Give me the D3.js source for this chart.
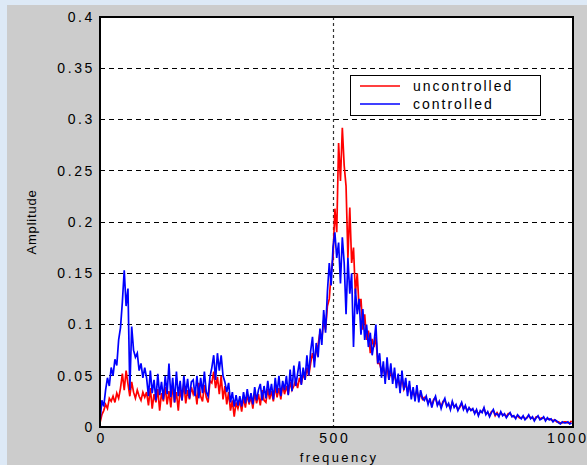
<!DOCTYPE html>
<html><head><meta charset="utf-8">
<script src="https://cdn.jsdelivr.net/npm/d3@7"></script>
<style>
html,body{margin:0;padding:0;background:#dde9f6;}
svg{display:block;}
</style></head>
<body>
<script>
// sampling grid: frequency in Hz for each value (4 Hz resolution)
const freqStep = 4;
const xTicks = [0, 500, 1000];
const yTicks = [0, 0.05, 0.1, 0.15, 0.2, 0.25, 0.3, 0.35, 0.4];
const seriesNames = ["uncontrolled", "controlled"];

const uncontrolled = [
 .004,.012,.016,.022,.018,.028,.025,.030,.024,.033,.028,.038,.052,.036,.055,.042,.030,.044,.034,.028,.036,.030,.026,.034,.029,
 .034,.021,.038,.018,.032,.024,.037,.016,.033,.025,.039,.022,.035,.019,.041,.024,.034,.016,.037,.026,.043,.023,.036,.027,.039,
 .032,.038,.022,.043,.030,.025,.041,.029,.024,.045,.043,.054,.038,.049,.032,.050,.027,.040,.022,.034,.016,.026,.010,.024,.018,
 .026,.015,.029,.019,.032,.022,.030,.018,.034,.023,.032,.021,.036,.026,.024,.037,.027,.035,.025,.040,.029,.038,.027,.041,.032,
 .040,.032,.044,.036,.040,.046,.038,.048,.042,.052,.046,.058,.050,.062,.072,.064,.074,.080,.092,.086,.104,.095,.118,.125,.150,
 .165,.213,.190,.277,.240,.292,.255,.235,.165,.214,.160,.175,.130,.150,.115,.125,.095,.110,.085,.094,.072,.086,.078,.088,.062,
 .062,.055,.058,.048,.060,.046,.055,.049,.050,.043,.046,.038,.048,.037,.042,.035,.040,.031,.034,.029,.036,.028,.032,.027,.029,
 .028,.024,.026,.021,.027,.028,.022,.024,.020,.025,.026,.021,.022,.018,.024,.020,.021,.017,.019,.023,.018,.020,.016,.018,.017,
 .017,.014,.016,.012,.015,.015,.018,.013,.014,.011,.015,.016,.011,.014,.011,.014,.012,.012,.010,.013,.013,.011,.010,.009,.011,
 .009,.009,.010,.008,.009,.011,.009,.009,.007,.010,.010,.008,.009,.009,.007,.008,.008,.007,.006,.007,.005,.005,.004,.004,.005,
 .005,.004,.004,.006
];

const controlled = [
 .005,.026,.020,.036,.048,.040,.058,.050,.066,.060,.085,.097,.122,.153,.118,.135,.036,.098,.075,.068,.072,.055,.062,.048,.058,
 .048,.030,.055,.033,.046,.026,.052,.031,.044,.027,.050,.032,.062,.029,.048,.024,.054,.030,.045,.026,.050,.032,.047,.028,.044,
 .046,.030,.050,.028,.048,.033,.054,.034,.030,.049,.058,.070,.046,.072,.055,.070,.050,.044,.034,.043,.024,.034,.020,.031,.021,
 .030,.020,.034,.023,.037,.024,.033,.022,.039,.026,.036,.042,.026,.040,.028,.045,.031,.042,.027,.048,.033,.050,.030,.045,.036,
 .050,.031,.056,.035,.060,.040,.052,.064,.041,.058,.046,.070,.050,.074,.088,.058,.082,.068,.096,.080,.114,.092,.132,.160,.138,
 .175,.190,.165,.180,.140,.185,.160,.110,.165,.130,.150,.078,.135,.110,.125,.090,.115,.085,.100,.078,.092,.070,.082,.100,.062,
 .072,.048,.064,.042,.068,.046,.062,.042,.058,.038,.052,.033,.055,.036,.048,.030,.045,.027,.039,.025,.041,.024,.036,.028,.026,
 .030,.022,.028,.019,.026,.030,.021,.025,.018,.024,.028,.020,.023,.017,.025,.019,.022,.016,.020,.024,.017,.021,.015,.019,.016,
 .018,.013,.017,.011,.016,.014,.019,.012,.015,.010,.014,.017,.012,.013,.010,.015,.011,.013,.009,.012,.014,.010,.011,.008,.012,
 .010,.008,.011,.007,.009,.012,.008,.010,.006,.009,.011,.007,.008,.010,.006,.009,.007,.008,.005,.007,.006,.004,.003,.005,.004,
 .004,.005,.003,.004
];

const W = 587, H = 465;
const L = 100, R = 573, T = 17, B = 427;
const font = "'Liberation Sans', Arial, sans-serif";

const svg = d3.select("body").append("svg").attr("width", W).attr("height", H);
svg.append("rect").attr("x", 0).attr("y", 0).attr("width", W).attr("height", H).attr("fill", "#dde9f6");
svg.append("rect").attr("x", 7).attr("y", 5).attr("width", W - 7).attr("height", H - 5).attr("fill", "#cccccc");

const x = d3.scaleLinear().domain([0, 1015]).range([L, R]);
const y = d3.scaleLinear().domain([0, 0.4]).range([B, T]);

svg.append("rect").attr("x", L).attr("y", T).attr("width", R - L).attr("height", B - T).attr("fill", "#fff");

// gridlines
const grid = svg.append("g");
grid.selectAll("line.h").data(yTicks.filter(v => v > 0 && v < 0.4)).join("line")
  .attr("x1", L).attr("x2", R).attr("y1", d => y(d)).attr("y2", d => y(d))
  .attr("stroke", "#000").attr("stroke-width", 1).attr("stroke-dasharray", "5,4").attr("shape-rendering", "crispEdges");
grid.selectAll("line.v").data(xTicks.filter(v => v > 0 && v < 1000)).join("line")
  .attr("x1", d => Math.round(x(d)) + 0.5).attr("x2", d => Math.round(x(d)) + 0.5).attr("y1", T).attr("y2", B)
  .attr("stroke", "#333").attr("stroke-width", 1.2).attr("stroke-dasharray", "3,3");

// data lines
const line = d3.line().x((d, i) => x(i * freqStep)).y(d => y(d));
svg.append("path").datum(uncontrolled).attr("d", line).attr("fill", "none").attr("stroke", "#ff0000").attr("stroke-width", 1.7);
svg.append("path").datum(controlled).attr("d", line).attr("fill", "none").attr("stroke", "#0000ff").attr("stroke-width", 1.7);

// axes
const xAxis = d3.axisBottom(x).tickValues(xTicks).tickSize(0).tickPadding(6).tickFormat(d3.format("d"));
const gx = svg.append("g").attr("transform", `translate(0,${B})`).call(xAxis);
const yAxis = d3.axisLeft(y).tickValues(yTicks).tickSize(0).tickPadding(5).tickFormat(d => d === 0 ? "0" : String(d));
const gy = svg.append("g").attr("transform", `translate(${L},0)`).call(yAxis);
[gx, gy].forEach(g => {
  g.select(".domain").remove();
  g.selectAll("text").attr("font-family", font).attr("font-size", 14).attr("fill", "#000").attr("letter-spacing", 2.6);
});
gx.selectAll("text").attr("dx", 1.3);

// box
svg.append("rect").attr("x", L).attr("y", T).attr("width", R - L).attr("height", B - T)
  .attr("fill", "none").attr("stroke", "#000").attr("stroke-width", 2);

// axis labels
svg.append("text").attr("x", 339).attr("y", 462).attr("text-anchor", "middle")
  .attr("font-family", font).attr("font-size", 13).attr("letter-spacing", 2.4).text("frequency");
svg.append("text").attr("transform", `translate(36,${(T + B) / 2}) rotate(-90)`).attr("text-anchor", "middle")
  .attr("font-family", font).attr("font-size", 13).attr("letter-spacing", 0.8).text("Amplitude");

// legend
const lg = svg.append("g").attr("transform", "translate(350,75)");
lg.append("rect").attr("x", 0.5).attr("y", 0.5).attr("width", 190).attr("height", 40).attr("fill", "#fff").attr("stroke", "#000").attr("stroke-width", 1);
const colors = ["#ff0000", "#0000ff"];
seriesNames.forEach((n, i) => {
  lg.append("line").attr("x1", 10).attr("x2", 50).attr("y1", 11 + i * 18).attr("y2", 11 + i * 18).attr("stroke", colors[i]).attr("stroke-width", 1.5);
  lg.append("text").attr("x", 63).attr("y", 16 + i * 18).attr("font-family", font).attr("font-size", 14).attr("letter-spacing", 2).text(n);
});
</script>
</body></html>
